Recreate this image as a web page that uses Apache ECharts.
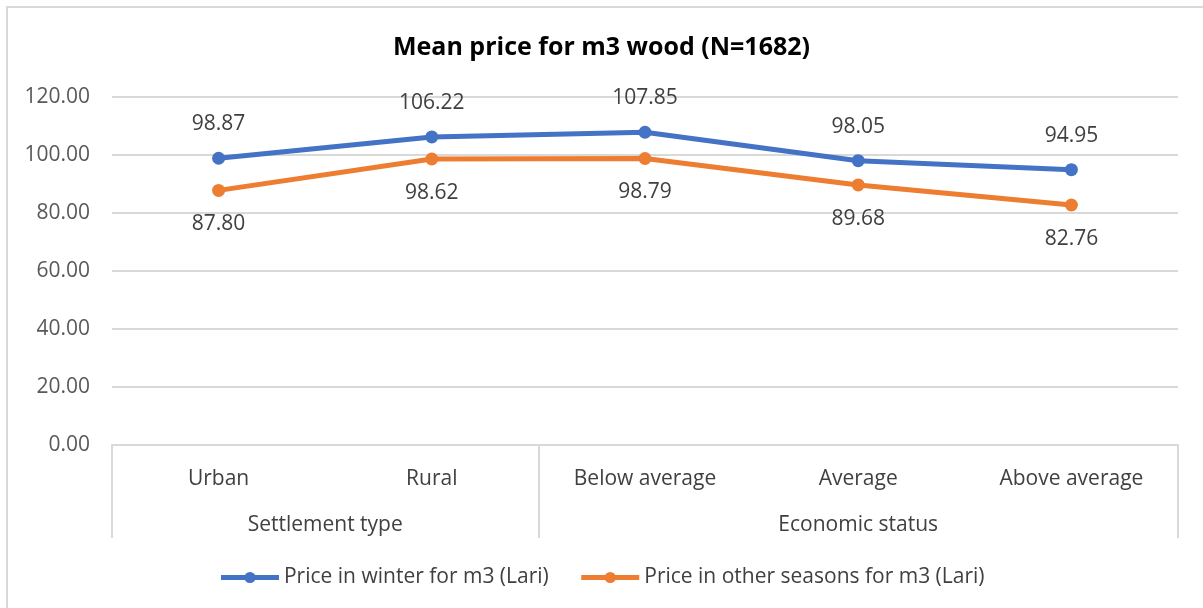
<!DOCTYPE html>
<html>
<head>
    <meta charset="utf-8"/>
    <title>Mean price for m3 wood</title>
    <script src="https://cdn.jsdelivr.net/npm/echarts@6/dist/echarts.min.js"></script>
    <style>
        body { margin: 0; background: #fff; }
        #frame { position: absolute; left: 6px; top: 6px; width: 1300px; height: 700px;
                 border-left: 2px solid #d9d9d9; border-top: 2px solid #d9d9d9; }
        #main { position: absolute; left: 0; top: 0; width: 1203px; height: 608px; }
    </style>
</head>
<body>
<div id="frame"></div>
<div id="main"></div>
<script type="text/javascript">
    var categories = ['Urban', 'Rural', 'Below average', 'Average', 'Above average'];
    var groups = ['Settlement type', 'Economic status'];
    var groupSizes = [2, 3];
    var winter = [98.87, 106.22, 107.85, 98.05, 94.95];
    var otherSeasons = [87.80, 98.62, 98.79, 89.68, 82.76];
    var seriesNames = ['Price in winter for m3 (Lari)', 'Price in other seasons for m3 (Lari)'];

    // group boundaries and centres on a 0..n value scale
    var bounds = [0], centres = [];
    groupSizes.forEach(function (n) {
        var start = bounds[bounds.length - 1];
        bounds.push(start + n);
        centres.push(start + n / 2);
    });

    var font = 'Open Sans';
    var myChart = echarts.init(document.getElementById('main'));

    var option = {
        textStyle: { fontFamily: font },
        title: {
            text: 'Mean price for m3 wood (N=1682)',
            left: 'center',
            top: 30,
            textStyle: { fontSize: 25, fontWeight: 'bold', color: '#000', fontFamily: font }
        },
        grid: { left: 112, right: 25, top: 97, bottom: 163 },
        legend: {
            bottom: 15,
            left: 'center',
            itemWidth: 58,
            itemHeight: 14,
            itemGap: 30,
            lineStyle: { width: 5 },
            textStyle: { fontSize: 21, color: '#404040', fontFamily: font },
            data: seriesNames
        },
        xAxis: [
            {
                type: 'category',
                data: categories,
                axisLine: { lineStyle: { color: '#d9d9d9', width: 2 } },
                axisTick: { show: false },
                axisLabel: { fontSize: 21, color: '#404040', margin: 24, interval: 0 }
            },
            {
                type: 'value',
                min: 0,
                max: categories.length,
                position: 'bottom',
                axisLine: { show: false },
                splitLine: { show: false },
                axisTick: {
                    show: true,
                    customValues: bounds,
                    length: 93,
                    lineStyle: { color: '#d9d9d9', width: 2 }
                },
                axisLabel: {
                    customValues: centres,
                    margin: 70,
                    fontSize: 21,
                    color: '#404040',
                    formatter: function (v) {
                        var i = centres.indexOf(v);
                        return i >= 0 ? groups[i] : '';
                    }
                }
            }
        ],
        yAxis: {
            type: 'value',
            min: 0,
            max: 120,
            interval: 20,
            axisLine: { show: false },
            axisTick: { show: false },
            splitLine: { lineStyle: { color: '#d9d9d9', width: 2 } },
            axisLabel: {
                fontSize: 21, color: '#595959', margin: 22,
                formatter: function (v) { return v.toFixed(2); }
            }
        },
        series: [
            {
                name: seriesNames[0],
                type: 'line',
                data: winter,
                symbol: 'circle',
                symbolSize: 13,
                color: '#4472c4',
                lineStyle: { width: 5 },
                label: {
                    show: true, position: 'top', distance: 17,
                    fontSize: 21, color: '#404040',
                    formatter: function (p) { return p.value.toFixed(2); }
                }
            },
            {
                name: seriesNames[1],
                type: 'line',
                data: otherSeasons,
                symbol: 'circle',
                symbolSize: 13,
                color: '#ed7d31',
                lineStyle: { width: 5 },
                label: {
                    show: true, position: 'bottom', distance: 17,
                    fontSize: 21, color: '#404040',
                    formatter: function (p) { return p.value.toFixed(2); }
                }
            }
        ]
    };

    myChart.setOption(option);
</script>
</body>
</html>
